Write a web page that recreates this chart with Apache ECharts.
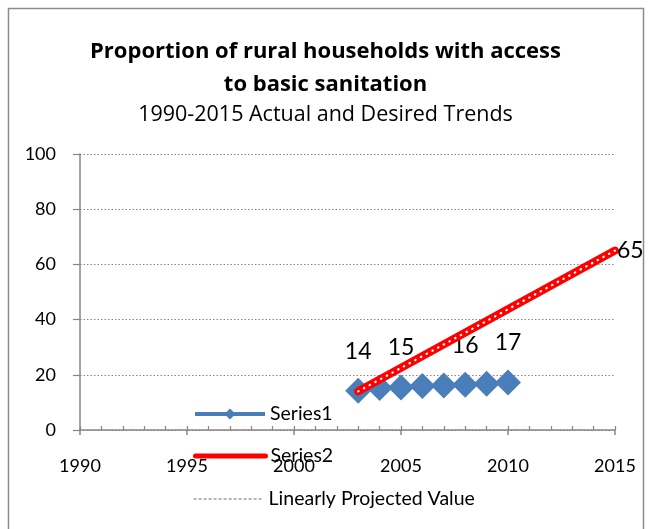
<!DOCTYPE html>
<html>
<head>
<meta charset="utf-8">
<script src="https://cdn.jsdelivr.net/npm/echarts@6/dist/echarts.min.js"></script>
<style>html,body{margin:0;padding:0;background:#fff}#c{width:651px;height:529px}</style>
</head>
<body>
<div id="c"></div>
<script>
var titleLines = ['Proportion of rural households with access', 'to basic sanitation'];
var subtitle = '1990-2015 Actual and Desired Trends';
var yTicks = [0, 20, 40, 60, 80, 100];
var xTicks = [1990, 1995, 2000, 2005, 2010, 2015];
var s1Years = [2003, 2004, 2005, 2006, 2007, 2008, 2009, 2010];
var s1Values = [14.2, 15.2, 15.4, 15.9, 16.1, 16.4, 16.8, 17.2];
var s1LabelYears = [2003, 2005, 2008, 2010];
var s2Years = [2003, 2015];
var s2Values = [14, 65];
var s2LabelYears = [2015];
var seriesNames = ['Series1', 'Series2', 'Linearly Projected Value'];

var FONT = 'Lato';
var TFONT = 'Open Sans';
var chart = echarts.init(document.getElementById('c'));

var s1Data = s1Years.map(function (y, i) {
  return { value: [y, s1Values[i]], label: { show: s1LabelYears.indexOf(y) >= 0 } };
});
var s2Data = s2Years.map(function (y, i) {
  return { value: [y, s2Values[i]], label: { show: s2LabelYears.indexOf(y) >= 0 } };
});
var s2Plain = s2Years.map(function (y, i) { return [y, s2Values[i]]; });

var legendBase = {
  left: 193, itemWidth: 70, itemHeight: 14, itemGap: 5, padding: 0,
  textStyle: { fontFamily: FONT, fontSize: 19.5, color: '#000' },
  selectedMode: false
};
var hiddenSymbol = { color: 'rgba(0,0,0,0)', borderWidth: 0, opacity: 0 };

chart.setOption({
  animation: false,
  title: [
    { text: titleLines.join('\n'), left: 'center', top: 30,
      textStyle: { fontFamily: TFONT, fontSize: 22, fontWeight: 'bold', color: '#000', lineHeight: 33 } },
    { text: subtitle, left: 'center', top: 95,
      textStyle: { fontFamily: TFONT, fontSize: 21.5, fontWeight: 'normal', color: '#000', lineHeight: 30 } }
  ],
  graphic: [{ type: 'rect', shape: { x: 8.5, y: 8.5, width: 635, height: 540 },
    style: { fill: 'none', stroke: '#8c8c8c', lineWidth: 1.5 }, silent: true }],
  legend: [
    Object.assign({}, legendBase, { data: [seriesNames[0]], top: 404,
      lineStyle: { color: '#4A7EBB', width: 4 } }),
    Object.assign({}, legendBase, { data: [seriesNames[1]], top: 446,
      lineStyle: { color: '#FF0000', width: 5 }, itemStyle: hiddenSymbol }),
    Object.assign({}, legendBase, { data: [seriesNames[2]], top: 489,
      lineStyle: { color: '#6f6f6f', width: 1.2, type: [3, 2] }, itemStyle: hiddenSymbol })
  ],
  grid: { left: 80, right: 36, top: 154, bottom: 99, containLabel: false },
  xAxis: [
    { type: 'value', min: xTicks[0], max: xTicks[xTicks.length - 1], interval: 5,
      axisLine: { show: true, lineStyle: { color: '#868686', width: 1.5 } },
      axisTick: { show: true, inside: false, length: 5, lineStyle: { color: '#868686', width: 1.5 } },
      axisLabel: { margin: 27, fontFamily: FONT, fontSize: 18, color: '#000',
        formatter: function (v) { return String(v); } },
      splitLine: { show: false } },
    { type: 'value', min: xTicks[0], max: xTicks[xTicks.length - 1], interval: 1, position: 'bottom',
      axisLine: { show: false },
      axisTick: { show: true, inside: true, length: 4, lineStyle: { color: '#868686', width: 1.2 } },
      axisLabel: { show: false }, splitLine: { show: false } }
  ],
  yAxis: {
    type: 'value', min: yTicks[0], max: yTicks[yTicks.length - 1], interval: 20,
    axisLine: { show: true, lineStyle: { color: '#868686', width: 1.5 } },
    axisTick: { show: true, inside: false, length: 7, lineStyle: { color: '#868686', width: 1.2 } },
    axisLabel: { margin: 24, fontFamily: FONT, fontSize: 18, color: '#000' },
    splitLine: { show: true, lineStyle: { color: '#868686', type: [1.5, 2], width: 1 } }
  },
  series: [
    { name: seriesNames[0], type: 'line', data: s1Data, symbol: 'diamond', symbolSize: 26,
      lineStyle: { color: '#4A7EBB', width: 4 }, itemStyle: { color: '#4A7EBB' },
      label: { position: 'top', distance: 15, fontFamily: FONT, fontSize: 23, color: '#000',
        formatter: function (p) { return Math.round(p.value[1]); } },
      z: 2 },
    { name: seriesNames[1], type: 'line', data: s2Data, symbol: 'none', showSymbol: false,
      lineStyle: { color: '#FF0000', width: 8, cap: 'round' }, itemStyle: { color: '#FF0000' },
      label: { show: false }, endLabel: { show: true, fontFamily: FONT, fontSize: 23, color: '#000', distance: 2,
        formatter: function (p) { return Math.round(p.value[1]); } },
      z: 3 },
    { name: 'Series2-dots', type: 'line', data: s2Plain, symbol: 'none',
      lineStyle: { color: '#ffffff', width: 2.2, type: [0.5, 6], cap: 'round' }, z: 4, silent: true },
    { name: seriesNames[2], type: 'line', data: [], symbol: 'none',
      lineStyle: { color: '#6f6f6f', width: 1.2, type: [3, 2] }, itemStyle: { color: '#6f6f6f' } }
  ]
});
</script>
</body>
</html>
